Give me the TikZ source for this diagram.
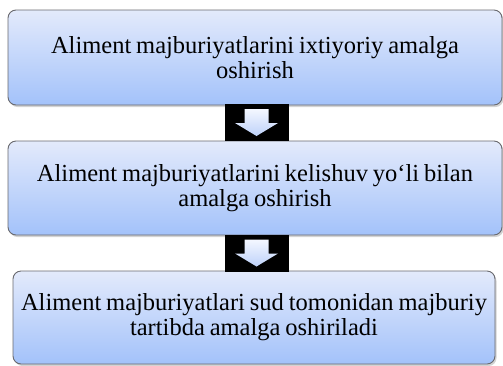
\documentclass[tikz,border=0pt]{standalone}
\usepackage{fontspec}
\setmainfont{Liberation Serif}[WordSpace=0.8]
\usetikzlibrary{shadows}
\definecolor{boxtop}{RGB}{227,234,251}
\definecolor{boxbot}{RGB}{163,194,250}
\definecolor{boxline}{RGB}{105,105,110}
\definecolor{arrtop}{RGB}{244,247,255}
\definecolor{arrbot}{RGB}{190,210,250}
\tikzset{
  stagebox/.style={draw=boxline,line width=.9pt,rounded corners=8pt,
    top color=boxtop,bottom color=boxbot,align=center,
    font=\fontsize{24.5}{25}\selectfont,inner sep=0pt,
    drop shadow={shadow xshift=1.5pt,shadow yshift=-2pt,opacity=.35}},
  gatebox/.style={fill=black,minimum width=64pt,minimum height=37pt,inner sep=0pt}
}
\begin{document}
\begin{tikzpicture}[x=1pt,y=-1pt]
\useasboundingbox (0,0) rectangle (503,365);
\node[stagebox,minimum width=494pt,minimum height=95pt] (b1) at (255,57.5)
  {Aliment majburiyatlarini ixtiyoriy amalga\\oshirish};
\node[stagebox,minimum width=494pt,minimum height=94pt] (b2) at (255,188)
  {Aliment majburiyatlarini kelishuv yo‘li bilan\\amalga oshirish};
\node[stagebox,minimum width=482pt,minimum height=93pt] (b3) at (254,317.5)
  {Aliment majburiyatlari sud tomonidan majburiy\\tartibda amalga oshiriladi};
\node[gatebox] (g1) at (256.5,122.5) {};
\node[gatebox] (g2) at (256.5,253) {};
\foreach \g in {g1,g2}{
  \begin{scope}[shift={(\g)}]
    \shade[top color=arrtop,bottom color=arrbot]
      (-12,-13.5) -- (12,-13.5) -- (12,0.5) -- (21.5,0.5) -- (0,13.5)
      -- (-21.5,0.5) -- (-12,0.5) -- cycle;
  \end{scope}
}
\end{tikzpicture}
\end{document}
